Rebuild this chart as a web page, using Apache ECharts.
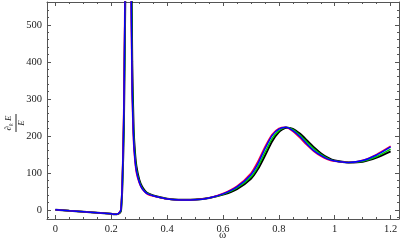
<!DOCTYPE html>
<html>
<head>
<meta charset="utf-8">
<script src="https://cdn.jsdelivr.net/npm/echarts@6/dist/echarts.min.js"></script>
<style>
  html, body { margin: 0; padding: 0; background: #fff; }
  #chart { width: 407px; height: 250px; }
</style>
</head>
<body>
<div id="chart"></div>
<script>
// x values (omega)
const omega = [0, 0.05, 0.1, 0.15, 0.2, 0.21, 0.22, 0.23, 0.235, 0.24,
  0.245, 0.25, 0.255, 0.26, 0.265, 0.27, 0.275, 0.28, 0.285, 0.29,
  0.3, 0.31, 0.32, 0.33, 0.35, 0.375, 0.4, 0.45, 0.5, 0.55,
  0.6, 0.65, 0.7, 0.725, 0.75, 0.775, 0.8, 0.825, 0.85, 0.875,
  0.9, 0.925, 0.95, 0.975, 1.0, 1.05, 1.1, 1.15, 1.2]

// curves
const yRed = [0, -3, -5.5, -8, -11, -12, -12, -6, 4, 95,
  290, 700, 1600, 2500, 1900, 650, 300, 180, 130, 100,
  73, 57, 48, 42, 37, 33, 29, 26.5, 27, 32,
  44, 64, 99, 131, 170, 203, 220, 223, 212, 195,
  175, 158, 145, 136, 131, 128, 134, 150, 172]
const yBlue = [0, -3, -5.5, -8, -11, -12, -12, -7, 2, 85,
  260, 650, 1500, 2500, 2000, 700, 320, 190, 135, 105,
  75, 58, 49, 43, 38, 33, 29, 26.5, 27, 32,
  43, 62, 95, 125, 165, 200, 218, 223, 214, 198,
  178, 160, 147, 137, 132, 128, 133, 148, 170]
const yGreen = [0, -3, -5.5, -8, -11, -12, -12, -8, 0, 78,
  240, 600, 1400, 2400, 2100, 780, 350, 205, 145, 110,
  78, 60, 50, 44, 38, 33, 29, 26.5, 27, 32,
  42, 59, 89, 117, 155, 192, 214, 223, 217, 202,
  183, 165, 150, 139, 132, 128, 131, 144, 164]
const yBlack = [0, -3, -5.5, -8, -11, -12, -12, -9, -2, 70,
  220, 560, 1300, 2300, 2200, 900, 400, 220, 155, 118,
  82, 63, 52, 45, 39, 34, 30, 27, 27.5, 32,
  41, 56, 84, 110, 146, 184, 210, 222, 219, 206,
  188, 169, 153, 141, 133, 128, 130, 141, 158]

// tick positions
const xMajor = [0, 0.2, 0.4, 0.6, 0.8, 1, 1.2]
const yMajor = [0, 100, 200, 300, 400, 500]
const xMinor = []
for (let i = 0; i <= 24; i++) if (i % 4) xMinor.push(+(i * 0.05).toFixed(2))
const yMinor = []
for (let v = -20; v <= 560; v += 20) if (v % 100) yMinor.push(v)

const X_MIN = -0.03, X_MAX = 1.23
const Y_MIN = -25, Y_MAX = 562
const frameColor = '#555'
const font = 'Liberation Serif'

const pairs = (ys) => omega.map((x, i) => [x, ys[i]])

const xAx = (pos, ticks, len, showLine, labels) => ({
  type: 'value', position: pos, min: X_MIN, max: X_MAX,
  axisLine: {show: showLine, onZero: false, lineStyle: {color: frameColor, width: 1}},
  axisTick: {show: true, inside: true, length: len, customValues: ticks,
    lineStyle: {color: frameColor, width: 1}},
  axisLabel: labels ? {show: true, customValues: ticks, color: '#222',
    fontFamily: font, fontSize: 10.5, margin: 5,
    formatter: (v) => String(v)} : {show: false},
  splitLine: {show: false},
})

const yAx = (pos, ticks, len, showLine, labels) => ({
  type: 'value', position: pos, min: Y_MIN, max: Y_MAX,
  axisLine: {show: showLine, onZero: false, lineStyle: {color: frameColor, width: 1}},
  axisTick: {show: true, inside: true, length: len, customValues: ticks,
    lineStyle: {color: frameColor, width: 1}},
  axisLabel: labels ? {show: true, customValues: ticks, color: '#222',
    fontFamily: font, fontSize: 10.5, margin: 5} : {show: false},
  splitLine: {show: false},
})

const line = (name, ys, color, width, z) => ({
  name, type: 'line', data: pairs(ys), showSymbol: false,
  smooth: 0.2, clip: true, z,
  lineStyle: {color, width}, emphasis: {disabled: true},
})

const chart = echarts.init(document.getElementById('chart'))
chart.setOption({
  animation: false,
  backgroundColor: '#fff',
  grid: {left: 47, right: 8, top: 2, bottom: 31},
  xAxis: [
    xAx('bottom', xMajor, 4, true, true),
    xAx('bottom', xMinor, 2, false, false),
    xAx('top', xMajor, 4, true, false),
    xAx('top', xMinor, 2, false, false),
  ],
  yAxis: [
    yAx('left', yMajor, 4, true, true),
    yAx('left', yMinor, 2, false, false),
    yAx('right', yMajor, 4, true, false),
    yAx('right', yMinor, 2, false, false),
  ],
  series: [
    line('black', yBlack, '#000', 2, 2),
    line('green', yGreen, '#00d000', 1.5, 3),
    line('red', yRed, '#ff0040', 1.5, 4),
    line('blue', yBlue, '#0000ff', 1.5, 5),
  ],
  graphic: [
    {
      type: 'text', left: 219, top: 230,
      style: {text: 'ω', fontFamily: font, fontSize: 11, fill: '#222'},
    },
    {
      type: 'group', x: 16, y: 123, rotation: Math.PI / 2,
      children: [
        {type: 'text', x: 0, y: -7,
          style: {text: '{a|∂}{s|k}{a| E}', align: 'center', verticalAlign: 'middle',
            fill: '#222',
            rich: {a: {fontFamily: font, fontSize: 9, fontStyle: 'italic'},
              s: {fontFamily: font, fontSize: 6, fontStyle: 'italic', padding: [5, 0, 0, 0]}}}},
        {type: 'line', shape: {x1: -9, y1: 0, x2: 9, y2: 0},
          style: {stroke: '#222', lineWidth: 1}},
        {type: 'text', x: 0, y: 6,
          style: {text: 'E', align: 'center', verticalAlign: 'middle', fill: '#222',
            fontFamily: font, fontSize: 9, fontStyle: 'italic'}},
      ],
    },
  ],
})
</script>
</body>
</html>
